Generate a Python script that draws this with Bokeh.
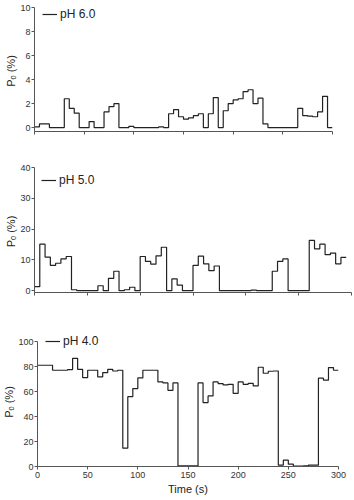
from bokeh.plotting import figure
from bokeh.models import Range1d, FixedTicker, Legend, LegendItem
from bokeh.layouts import column
from bokeh.embed import file_html
from bokeh.resources import INLINE

# ---- data (5 s bins) ----
bin_width = 5
po_ph6 = [0.05, 0.3, 0.3, 0, 0, 0, 2.4, 1.6, 1.2, 0,
          0, 0.5, 0, 0, 1.3, 1.75, 2.0, 0, 0, 0.1,
          0, 0, 0, 0, 0, 0.05, 0, 1.15, 1.5, 0.9,
          0.7, 0.8, 1.0, 1.15, 0, 1.15, 2.5, 0, 1.4, 2.0,
          2.3, 2.4, 3.0, 3.15, 2.0, 2.45, 0.3, 0, 0, 0,
          0, 0, 0, 1.6, 1.0, 0.95, 0.9, 1.3, 2.6, 0]
po_ph5 = [1.3, 15.1, 10.9, 8.2, 8.9, 10.3, 11.1, 0.3, 0, 0,
          0, 0, 1.6, 0, 4.0, 6.3, 0, 0.3, 1.1, 0,
          11.1, 9.5, 8.6, 11.3, 14.1, 0, 3.8, 1.8, 0, 0,
          8.2, 11.2, 8.7, 6.5, 8.0, 0, 0, 0, 0, 0,
          0, 0.2, 0, 0, 0, 6.3, 9.5, 10.3, 0, 0,
          0, 0, 16.3, 13.6, 15.1, 11.7, 12.2, 8.7, 10.8]
po_ph4 = [81.3, 81.3, 81.3, 77.3, 77.3, 77.3, 77.8, 86.9, 78.0, 71.4,
          77.3, 77.3, 72.0, 75.4, 78.0, 76.7, 77.3, 14.7, 56.1, 62.6,
          71.1, 77.3, 77.3, 77.3, 67.9, 67.1, 61.2, 67.1, 0.5, 0.5,
          0.5, 0.5, 67.1, 51.3, 56.7, 67.9, 66.6, 65.5, 66.0, 58.8,
          67.9, 66.0, 66.8, 64.7, 79.7, 74.9, 76.5, 76.7, 1.1, 5.1,
          1.9, 0.3, 0.3, 0.5, 1.1, 1.1, 70.9, 69.3, 79.4, 77.3]

labels = ["pH 6.0", "pH 5.0", "pH 4.0"]
y_ticks_6 = [0, 2, 4, 6, 8, 10]
y_ticks_5 = [0, 10, 20, 30, 40]
y_ticks_4 = [0, 20, 40, 60, 80, 100]
x_ticks = [0, 50, 100, 150, 200, 250, 300]
x_label = "Time (s)"
y_label = "P\u2092  (%)"

FONT = "Liberation Sans"
AX = "#555555"
LINE = "#222222"
LEFT = 34


def panel(vals, label, yticks, yr, ybounds, fw, height, top, bottom, leg_loc, show_x):
    right = 354 - LEFT - fw
    p = figure(width=354, height=height, output_backend="svg",
               toolbar_location=None, x_range=Range1d(0, 300), y_range=Range1d(*yr),
               min_border_left=LEFT, min_border_right=right,
               min_border_top=top, min_border_bottom=bottom, frame_align=False)
    p.outline_line_color = None
    p.xgrid.visible = False
    p.ygrid.visible = False
    xs = [i * bin_width for i in range(len(vals) + 1)]
    ys = list(vals) + [vals[-1]]
    r = p.step(xs, ys, mode="after", line_color=LINE, line_width=1.2)

    for ax in (p.xaxis[0], p.yaxis[0]):
        ax.axis_line_color = AX
        ax.major_tick_line_color = AX
        ax.major_tick_out = 3
        ax.major_tick_in = 0
        ax.minor_tick_line_color = None
        ax.major_label_text_font = FONT
        ax.major_label_text_font_size = "9px"
        ax.major_label_text_color = "#333333"
        ax.axis_label_text_font = FONT
        ax.axis_label_text_font_size = "11px"
        ax.axis_label_text_font_style = "normal"
        ax.axis_label_text_color = "#222222"
    p.yaxis.major_label_standoff = 1
    p.yaxis.axis_label_standoff = 0
    p.xaxis.major_label_standoff = 2
    p.xaxis.axis_label_standoff = 2
    p.yaxis.bounds = ybounds
    p.xaxis.ticker = FixedTicker(ticks=x_ticks)
    p.yaxis.ticker = FixedTicker(ticks=yticks)
    p.yaxis.axis_label = y_label
    if show_x:
        p.xaxis.axis_label = x_label
    else:
        p.xaxis.major_label_overrides = {t: "" for t in x_ticks}

    leg = Legend(items=[LegendItem(label=label, renderers=[r])], location=leg_loc,
                 background_fill_alpha=0, border_line_color=None, padding=0, margin=0,
                 spacing=0, glyph_width=15, glyph_height=12, label_height=12,
                 label_standoff=3, label_text_font=FONT, label_text_font_size="12px",
                 label_text_color="#222222")
    p.add_layout(leg)
    return p


p1 = panel(po_ph6, labels[0], y_ticks_6, (-0.33, 10), (-0.33, 10), 298, 155, 7, 24,
           (8, 110), False)
p2 = panel(po_ph5, labels[1], y_ticks_5, (-0.6, 40), (-0.6, 40), 317, 170, 12, 33,
           (7, 105), False)
p3 = panel(po_ph4, labels[2], y_ticks_4, (0, 106), (0, 100), 304, 175, 9, 34,
           (8, 118), True)

layout = column(p1, p2, p3, spacing=0)
open("out.html", "w").write(file_html(layout, INLINE))
